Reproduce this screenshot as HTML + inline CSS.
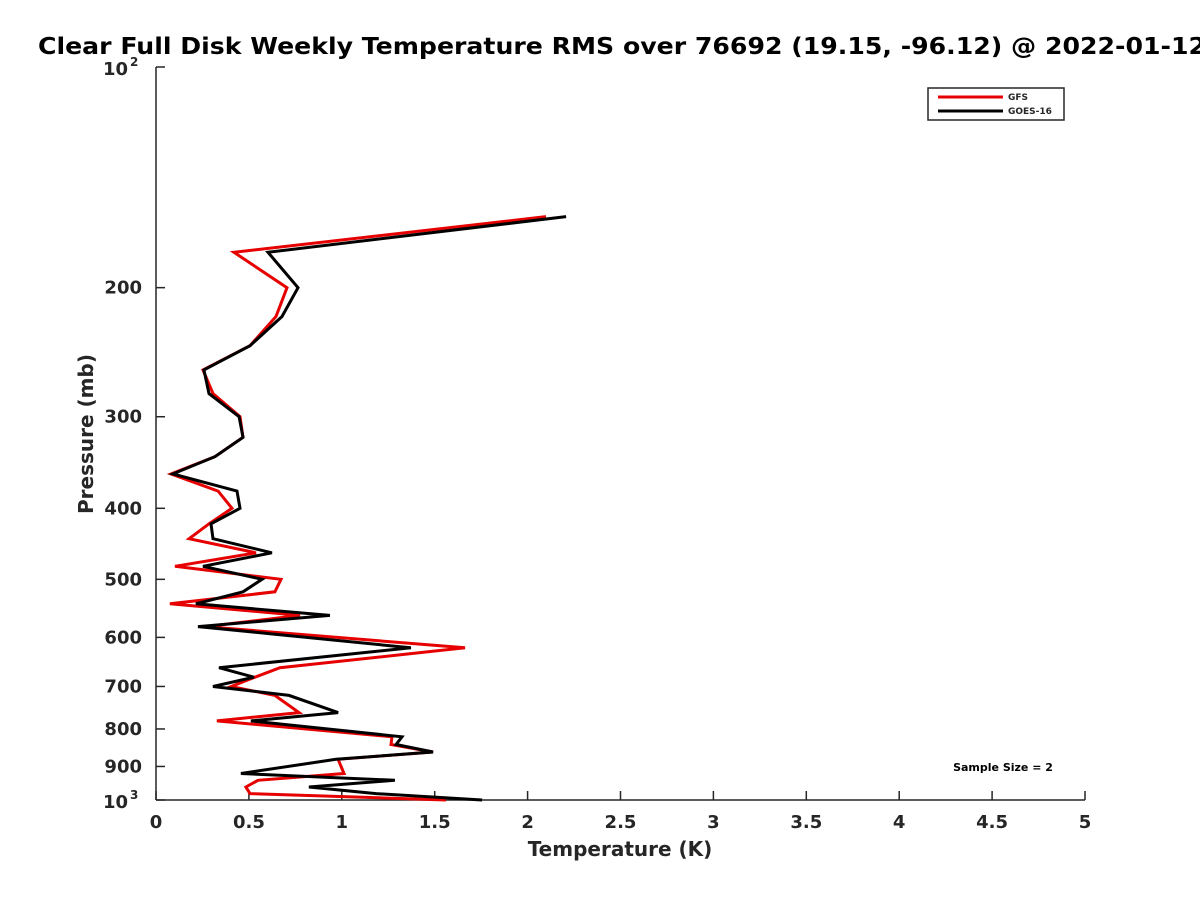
<!DOCTYPE html>
<html><head><meta charset="utf-8"><style>
html,body{margin:0;padding:0;background:#fff;overflow:hidden;}
svg text{font-family:"DejaVu Sans","Liberation Sans",sans-serif;font-weight:bold;fill:#262626;}
</style></head><body>
<svg id="chart" width="1200" height="900" viewBox="0 0 1200 900" xmlns="http://www.w3.org/2000/svg">
<rect width="1200" height="900" fill="#fff"/>
<text x="38" y="54" font-size="23" textLength="1168" lengthAdjust="spacingAndGlyphs" style="fill:#000">Clear Full Disk Weekly Temperature RMS over 76692 (19.15, -96.12) @ 2022-01-12</text>
<g id="axes"></g>
<g id="series"></g>
<text x="620" y="856" font-size="20" text-anchor="middle">Temperature (K)</text>
<text transform="translate(93,434) rotate(-90)" font-size="20" text-anchor="middle">Pressure (mb)</text>
<g>
<rect x="928" y="88" width="136" height="32" fill="#fff" stroke="#262626" stroke-width="1.5"/>
<line x1="938" y1="97" x2="1003" y2="97" stroke="#e60000" stroke-width="3"/>
<text x="1008" y="100" font-size="9">GFS</text>
<line x1="938" y1="111" x2="1003" y2="111" stroke="#000" stroke-width="3"/>
<text x="1008" y="114" font-size="9">GOES-16</text>
</g>
<text x="1003" y="771" font-size="11" text-anchor="middle" style="fill:#000">Sample Size = 2</text>
</svg>
<script>
const pressures=[160,179,200,219,240,259,279,300,320,340,359,379,400,420,440,460,480,500,520,540,560,580,620,660,680,700,720,760,780,820,840,860,880,920,940,960,980,1000];
const gfsValues=[2.099,0.42,0.705,0.646,0.506,0.253,0.307,0.452,0.468,0.318,0.081,0.334,0.409,0.285,0.178,0.538,0.102,0.673,0.64,0.075,0.775,0.264,1.663,0.667,0.533,0.404,0.64,0.77,0.328,1.27,1.265,1.491,0.98,1.012,0.549,0.484,0.506,1.561];
const goesValues=[2.207,0.603,0.764,0.678,0.506,0.258,0.285,0.447,0.468,0.318,0.091,0.436,0.452,0.296,0.307,0.624,0.253,0.571,0.468,0.215,0.936,0.226,1.372,0.339,0.527,0.307,0.716,0.98,0.511,1.324,1.292,1.491,0.969,0.457,1.286,0.823,1.184,1.755];
const xTicks=[0,0.5,1,1.5,2,2.5,3,3.5,4,4.5,5];
const yTicks=[200,300,400,500,600,700,800,900];
const NS="http://www.w3.org/2000/svg";
const X0=156,X1=1085,Y0=67,Y1=800;
function xs(v){return X0+(X1-X0)*v/5;}
function ys(p){return Y0+(Y1-Y0)*(Math.log10(p)-2);}
function mk(tag,attrs,parent){const e=document.createElementNS(NS,tag);for(const k in attrs)e.setAttribute(k,attrs[k]);parent.appendChild(e);return e;}
const ax=document.getElementById('axes');
let l=mk('line',{x1:X0,y1:Y0,x2:X0,y2:Y1,stroke:'#262626','stroke-width':1.5},ax);


l=mk('line',{x1:X0,y1:Y1,x2:X1,y2:Y1,stroke:'#262626','stroke-width':1.5},ax);


xTicks.forEach(v=>{
  const t=mk('line',{x1:xs(v),y1:Y1,x2:xs(v),y2:Y1-9,stroke:'#262626','stroke-width':1.5},ax);
  
  
  const tx=mk('text',{x:xs(v),y:828,'font-size':18,'text-anchor':'middle'},ax);
  tx.textContent=String(v);
  
  
});
[100,1000].concat(yTicks).forEach(p=>{
  const t=mk('line',{x1:X0,y1:ys(p),x2:X0+9,y2:ys(p),stroke:'#262626','stroke-width':1.5},ax);
  
  
});
yTicks.forEach(p=>{
  const tx=mk('text',{x:142,y:ys(p)+6,'font-size':18,'text-anchor':'end'},ax);
  tx.textContent=String(p);
  
  
});
[[100,'2'],[1000,'3']].forEach(([p,e])=>{
  const tx=mk('text',{x:128,y:ys(p)+8,'font-size':18,'text-anchor':'end'},ax);
  tx.textContent='10';
  
  
  const sx=mk('text',{x:130,y:ys(p)-1,'font-size':12},ax);
  sx.textContent=e;
  
  
});
const sg=document.getElementById('series');
function line(vals,color,name){
  const pts=vals.map((v,i)=>xs(v).toFixed(1)+','+ys(pressures[i]).toFixed(1)).join(' ');
  const pl=mk('polyline',{points:pts,fill:'none',stroke:color,'stroke-width':3,'stroke-linejoin':'miter'},sg);
  
  
}
line(gfsValues,'#e60000','gfs-line');
line(goesValues,'#000000','goes16-line');
</script>
</body></html>
